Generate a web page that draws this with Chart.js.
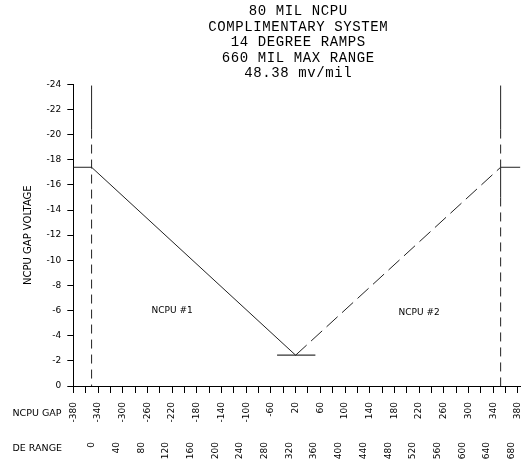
<!DOCTYPE html>
<html>
<head>
<meta charset="utf-8">
<script src="https://cdn.jsdelivr.net/npm/chart.js@4.4.1/dist/chart.umd.min.js"></script>
<style>
  html, body { margin: 0; padding: 0; background: #fff; }
  #wrap { width: 522px; height: 460px; }
</style>
</head>
<body>
<div id="wrap"><canvas id="gapChart"></canvas></div>
<script>
// axis labels as printed on the plot
const gapLabels = ['-380', '-340', '-300', '-260', '-220', '-180', '-140', '-100', '-60',
    '20', '60', '100', '140', '180', '220', '260', '300', '340', '380'];
const rangeLabels = ['0', '40', '80', '120', '160', '200', '240', '280', '320', '360',
    '400', '440', '480', '520', '560', '600', '640', '680'];
const voltLabels = ['-24', '-22', '-20', '-18', '-16', '-14', '-12', '-10', '-8', '-6', '-4', '-2', '0'];
const titleLines = ['80 MIL NCPU', 'COMPLIMENTARY SYSTEM', '14 DEGREE RAMPS', '660 MIL MAX RANGE', '48.38 mv/mil'];

// tick positions (one unit = one labelled gap step)
const gapTicks = [0, 0.5, 1, 1.5, 2, 2.5, 3, 3.5, 4, 4.5, 5, 5.5, 6, 6.5, 7, 7.5, 8, 8.5, 9,
    9.5, 10, 10.5, 11, 11.5, 12, 12.5, 13, 13.5, 14, 14.5, 15, 15.5, 16, 16.5, 17, 17.5, 18];
const rangeTicks = [0.75, 1.75, 2.75, 3.75, 4.75, 5.75, 6.75, 7.75, 8.75, 9.75,
    10.75, 11.75, 12.75, 13.75, 14.75, 15.75, 16.75, 17.75];

// NCPU #1 ramp (solid) and NCPU #2 ramp (dashed)
const ncpu1X = [0, 0.74, 9.0];
const ncpu1Y = [-17.4, -17.4, -2.45];
const ncpu2X = [9.0, 17.3, 18.1];
const ncpu2Y = [-2.45, -17.4, -17.4];
const floorX = [8.25, 9.8];
const floorY = [-2.45, -2.45];
const leftEdgeX = [0.74, 0.74, 0.74];
const leftEdgeY = [-23.9, -20.4, 0];
const rightEdgeX = [17.3, 17.3, 17.3, 17.3, 17.3];
const rightEdgeY = [-23.9, -20.4, -17.4, -15.0, 0];

const noteLabels = ['NCPU #1', 'NCPU #2'];
const noteX = [4.0, 14.0];
const noteY = [-6.0, -5.8];

function pts(xs, ys) {
    return xs.map((x, i) => ({ x: x, y: ys[i] }));
}

const tickFont = { family: '"DejaVu Sans", sans-serif', size: 9 };

// draws the title block, axis captions and the two ramp notes
const textPlugin = {
    id: 'plotText',
    afterDraw(chart) {
        const ctx = chart.ctx;
        const xs = chart.scales.x;
        const ys = chart.scales.y;
        ctx.save();
        ctx.fillStyle = '#000';
        ctx.textAlign = 'center';
        ctx.textBaseline = 'middle';

        ctx.font = '14px "Liberation Mono", monospace';
        ctx.letterSpacing = '0.6px';
        titleLines.forEach((line, i) => {
            ctx.fillText(line, 298.3, 11.7 + i * 15.4);
        });
        ctx.letterSpacing = '0px';

        ctx.font = '9px "DejaVu Sans", sans-serif';
        noteLabels.forEach((t, i) => {
            ctx.fillText(t, xs.getPixelForValue(noteX[i]), ys.getPixelForValue(noteY[i]));
        });

        ctx.font = '9.5px "DejaVu Sans", sans-serif';
        ctx.textAlign = 'left';
        ctx.fillText('NCPU GAP', 12.5, 414);
        ctx.fillText('DE RANGE', 12.5, 449);

        ctx.font = '10px "DejaVu Sans", sans-serif';
        ctx.textAlign = 'center';
        ctx.translate(28, (chart.chartArea.top + chart.chartArea.bottom) / 2);
        ctx.rotate(-Math.PI / 2);
        ctx.fillText('NCPU GAP VOLTAGE', 0, 0);
        ctx.restore();
    }
};

// dataset borderDash is the dashed look; listed segments are drawn solid
// (a non-empty borderDash also keeps Chart.js off its fast path, which
// folds vertical runs onto themselves and hides the gaps)
const solidAt = idx => ctx => (idx.includes(ctx.p0DataIndex) ? [] : undefined);

new Chart(document.getElementById('gapChart'), {
    type: 'scatter',
    data: {
        datasets: [
            {
                data: pts(ncpu1X, ncpu1Y),
                showLine: true, borderColor: '#222', borderWidth: 1, pointRadius: 0
            },
            {
                data: pts(ncpu2X, ncpu2Y),
                showLine: true, borderColor: '#222', borderWidth: 1, pointRadius: 0,
                borderDash: [15, 6],
                segment: { borderDash: solidAt([1]) }
            },
            {
                data: pts(floorX, floorY),
                showLine: true, borderColor: '#333', borderWidth: 1.2, pointRadius: 0
            },
            {
                data: pts(leftEdgeX, leftEdgeY),
                showLine: true, borderColor: '#222', borderWidth: 1, pointRadius: 0,
                borderDash: [9, 6],
                segment: { borderDash: solidAt([0]) }
            },
            {
                data: pts(rightEdgeX, rightEdgeY),
                showLine: true, borderColor: '#222', borderWidth: 1, pointRadius: 0,
                borderDash: [9, 6],
                segment: { borderDash: solidAt([0, 2]) }
            }
        ]
    },
    options: {
        animation: false,
        responsive: true,
        maintainAspectRatio: false,
        layout: { padding: { top: 84.3, right: 1.6, left: 0, bottom: 0 } },
        plugins: { legend: { display: false }, tooltip: { enabled: false } },
        scales: {
            x: {
                type: 'linear', position: 'bottom', weight: 0, min: 0, max: 18.1,
                afterBuildTicks: s => { s.ticks = gapTicks.map(v => ({ value: v })); },
                afterFit: s => { s.height = 46; s.paddingLeft = 0; s.paddingRight = 0; },
                border: { color: '#000', width: 1 },
                grid: { drawOnChartArea: false, drawTicks: true, tickLength: 7, color: '#000' },
                ticks: {
                    autoSkip: false, minRotation: 90, maxRotation: 90, padding: 9,
                    font: tickFont, color: '#000',
                    callback: (v, i) => (i % 2 === 0 ? gapLabels[i / 2] : '')
                }
            },
            xRange: {
                type: 'linear', position: 'bottom', weight: 1, min: 0, max: 18.1,
                afterBuildTicks: s => { s.ticks = rangeTicks.map(v => ({ value: v })); },
                afterFit: s => { s.height = 28; s.paddingLeft = 0; s.paddingRight = 0; },
                border: { display: false },
                grid: { display: false, drawTicks: false },
                ticks: {
                    autoSkip: false, minRotation: 90, maxRotation: 90, padding: 10,
                    font: tickFont, color: '#000',
                    callback: (v, i) => rangeLabels[i]
                }
            },
            y: {
                type: 'linear', position: 'left', min: -24, max: 0, reverse: true,
                afterBuildTicks: s => { s.ticks = voltLabels.map(v => ({ value: Number(v) })); },
                afterFit: s => { s.width = 73.3; s.paddingTop = 0; s.paddingBottom = 0; },
                border: { color: '#000', width: 1 },
                grid: { drawOnChartArea: false, drawTicks: true, tickLength: 6, color: '#000' },
                ticks: {
                    padding: 6, font: tickFont, color: '#000',
                    callback: (v, i) => voltLabels[i]
                }
            }
        }
    },
    plugins: [textPlugin]
});
</script>
</body>
</html>
